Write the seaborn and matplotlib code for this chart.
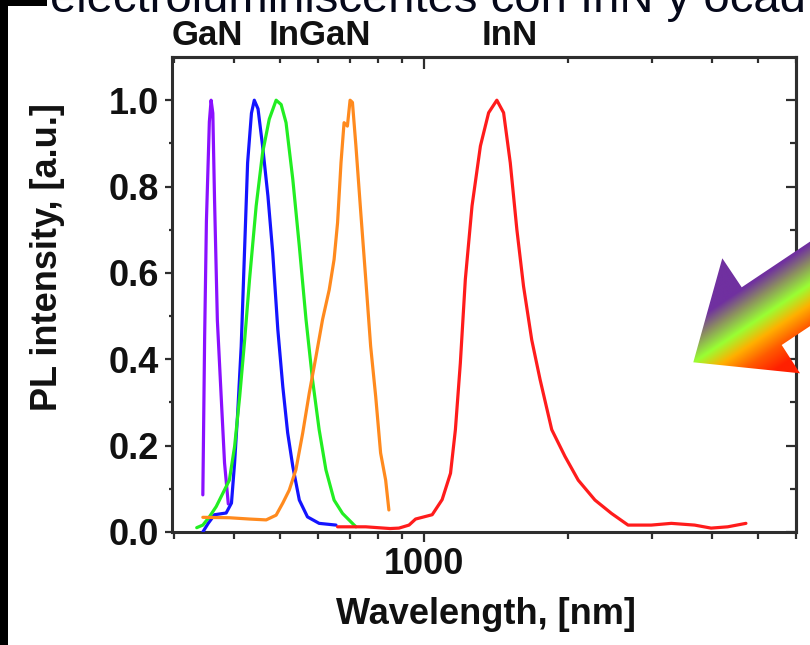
import numpy as np
import pandas as pd
import matplotlib
matplotlib.use('Agg')
import matplotlib.pyplot as plt
import seaborn as sns
from matplotlib.ticker import FixedLocator, FuncFormatter, NullFormatter
from matplotlib.patches import Polygon, Rectangle
from matplotlib.colors import LinearSegmentedColormap

# ---------------- data ----------------
gan_wl = [345, 348, 351, 356, 359, 362, 365, 370, 377, 383, 390]
gan_int = [0.086, 0.45, 0.72, 0.95, 1.0, 0.97, 0.77, 0.49, 0.31, 0.16, 0.065]

blue_wl = [345, 354, 365, 386, 396, 402, 408, 415, 422, 428, 436, 442, 450,
           460, 472, 483, 495, 507, 519, 532, 549, 571, 604, 655]
blue_int = [0.0, 0.02, 0.04, 0.044, 0.067, 0.16, 0.275, 0.43, 0.66, 0.855,
            0.97, 1.0, 0.98, 0.894, 0.778, 0.647, 0.469, 0.337, 0.23, 0.152,
            0.074, 0.035, 0.02, 0.016]

green_wl = [335, 345, 356, 368, 380, 392, 402, 412, 422, 432, 446, 460, 475,
            491, 503, 515, 532, 549, 567, 585, 604, 624, 649, 676, 709, 721]
green_int = [0.01, 0.016, 0.035, 0.059, 0.09, 0.12, 0.198, 0.314, 0.445,
             0.585, 0.755, 0.878, 0.956, 1.0, 0.99, 0.948, 0.817, 0.662,
             0.492, 0.353, 0.237, 0.144, 0.074, 0.043, 0.02, 0.012]

orange_wl = [345, 392, 432, 468, 491, 507, 523, 540, 558, 576, 595, 614, 634,
             649, 660, 671, 681, 692, 701, 709, 721, 738, 756, 774, 793, 812,
             832, 845]
orange_int = [0.034, 0.033, 0.030, 0.028, 0.039, 0.067, 0.097, 0.144, 0.229,
              0.322, 0.407, 0.492, 0.561, 0.631, 0.716, 0.855, 0.948, 0.94,
              1.0, 0.995, 0.894, 0.74, 0.585, 0.43, 0.314, 0.183, 0.12, 0.051]

red_wl = [660, 756, 850, 887, 931, 961, 1041, 1092, 1137, 1164, 1192, 1221,
          1261, 1313, 1366, 1421, 1468, 1516, 1565, 1616, 1681, 1750, 1851,
          1973, 2103, 2279, 2468, 2673, 2989, 3292, 3682, 3987, 4319, 4715]
red_int = [0.012, 0.012, 0.008, 0.009, 0.016, 0.030, 0.040, 0.075, 0.136,
           0.237, 0.391, 0.585, 0.755, 0.894, 0.971, 1.0, 0.971, 0.855, 0.70,
           0.569, 0.445, 0.353, 0.237, 0.175, 0.12, 0.074, 0.043, 0.016,
           0.016, 0.02, 0.016, 0.009, 0.012, 0.02]

peak_labels = ['GaN', 'InGaN', 'InN']
peak_label_x = [353, 606, 1511]

y_ticks = [0.0, 0.2, 0.4, 0.6, 0.8, 1.0]
y_minor = [0.1, 0.3, 0.5, 0.7, 0.9]
x_major = [1000]
x_minor = [300, 400, 500, 600, 700, 800, 900, 2000, 3000, 4000, 5000, 6000]

series = [
    ('GaN', gan_wl, gan_int, '#8a10ff'),
    ('InGaN blue', blue_wl, blue_int, '#1414ff'),
    ('InGaN green', green_wl, green_int, '#22ee22'),
    ('InGaN orange', orange_wl, orange_int, '#ff8a1e'),
    ('InN', red_wl, red_int, '#ff1c1c'),
]

# ---------------- style ----------------
sns.set_theme(style='ticks')
plt.rcParams['font.family'] = ['Liberation Sans', 'DejaVu Sans']
FS = 26
SPINE = '#2e2e2e'
TXT = '#111111'

fig = plt.figure(figsize=(8.1, 6.45), dpi=100)
fig.patch.set_facecolor('white')
ax = fig.add_axes([0.2120, 0.1752, 0.7707, 0.7364])
ax.set_facecolor('white')

order = [0, 2, 1, 3, 4]
for i in order:
    name, wl, it, col = series[i]
    df = pd.DataFrame({'wl': wl, 'I': it})
    sns.lineplot(data=df, x='wl', y='I', ax=ax, color=col, lw=2.3,
                 estimator=None, sort=False, zorder=3 + i)

ax.set_xscale('log')
ax.set_xlim(297, 6000)
ax.set_ylim(0, 1.1)

ax.xaxis.set_major_locator(FixedLocator(x_major))
ax.xaxis.set_major_formatter(FuncFormatter(lambda v, p: '%d' % v))
ax.xaxis.set_minor_locator(FixedLocator(x_minor))
ax.xaxis.set_minor_formatter(NullFormatter())
ax.yaxis.set_major_locator(FixedLocator(y_ticks))
ax.yaxis.set_major_formatter(FuncFormatter(lambda v, p: '%.1f' % v))
ax.yaxis.set_minor_locator(FixedLocator(y_minor))

for sp in ax.spines.values():
    sp.set_visible(True)
    sp.set_linewidth(2.2)
    sp.set_color(SPINE)

ax.tick_params(axis='x', which='major', direction='out', length=7, width=1.6,
               color=SPINE, pad=4.0, labelsize=FS, top=False)
ax.tick_params(axis='x', which='minor', direction='out', length=5, width=1.6,
               color=SPINE, top=False)
ax.tick_params(axis='y', which='major', direction='out', length=5, width=1.6,
               color=SPINE, pad=4.5, labelsize=FS, right=False)
ax.tick_params(axis='y', which='minor', direction='out', length=2.4, width=1.6,
               color=SPINE, right=False)
for lab in ax.get_xticklabels() + ax.get_yticklabels():
    lab.set_fontweight('bold')
    lab.set_color(TXT)

# top and right ticks pointing inward
axt = ax.secondary_xaxis('top')
axt.xaxis.set_major_locator(FixedLocator(x_major))
axt.xaxis.set_minor_locator(FixedLocator(x_minor))
axt.xaxis.set_major_formatter(NullFormatter())
axt.xaxis.set_minor_formatter(NullFormatter())
axt.tick_params(axis='x', which='major', direction='in', length=8.6, width=1.6, color=SPINE)
axt.tick_params(axis='x', which='minor', direction='in', length=4.3, width=1.6, color=SPINE)
axt.spines['top'].set_linewidth(2.2)
axt.spines['top'].set_color(SPINE)

axr = ax.secondary_yaxis('right')
axr.yaxis.set_major_locator(FixedLocator(y_ticks))
axr.yaxis.set_minor_locator(FixedLocator(y_minor))
axr.yaxis.set_major_formatter(NullFormatter())
axr.tick_params(axis='y', which='major', direction='in', length=7, width=1.6, color=SPINE)
axr.tick_params(axis='y', which='minor', direction='in', length=4.3, width=1.6, color=SPINE)
axr.spines['right'].set_linewidth(2.2)
axr.spines['right'].set_color(SPINE)

ax.set_xlabel('Wavelength, [nm]', fontsize=FS, fontweight='bold', color=TXT)
ax.xaxis.set_label_coords(0.503, -0.137)
ax.set_ylabel('PL intensity, [a.u.]', fontsize=FS, fontweight='bold', color=TXT)
ax.yaxis.set_label_coords(-0.171, 0.579)

for lab, xv in zip(peak_labels, peak_label_x):
    ax.text(xv, 1.128, lab, ha='center', va='baseline', fontsize=FS - 1,
            fontweight='bold', color=TXT, clip_on=False)

# ---------------- overlay: border, cut-off title, gradient arrow ----------------
ov = fig.add_axes([0, 0, 1, 1], zorder=10)
ov.set_xlim(0, 810)
ov.set_ylim(645, 0)
ov.axis('off')
ov.patch.set_alpha(0)

ov.add_patch(Rectangle((0, 0), 8, 645, facecolor='black', edgecolor='none'))
ov.add_patch(Rectangle((0, 0), 47, 6, facecolor='black', edgecolor='none'))
ov.text(50, 12, 'electroluminiscentes con InN y ocad', fontsize=34,
        va='baseline', ha='left', color='#05081a', clip_on=False)

arrow_pts = [(693.3, 362.3), (722.3, 258.3), (741.7, 287.3), (812, 240.3),
             (812, 324.8), (781.7, 345.0), (800.0, 373.3)]
poly = Polygon(arrow_pts, closed=True, facecolor='none', edgecolor='none')
ov.add_patch(poly)

gx = np.linspace(688, 812, 260)
gy = np.linspace(235, 378, 300)
GX, GY = np.meshgrid(gx, gy)
S = 0.555 * GX + 0.831 * GY
s0, s1 = 612.0, 758.0
Sn = (S - s0) / (s1 - s0)
stops = [(612, '#7030a0'), (652, '#7030a0'), (668, '#8c9060'), (686, '#99ff33'),
         (703, '#ffb000'), (720, '#ff5a00'), (738, '#ff2000'), (758, '#ff2000')]
cmap = LinearSegmentedColormap.from_list(
    'arrow', [((s - s0) / (s1 - s0), c) for s, c in stops])
im = ov.imshow(Sn, cmap=cmap, vmin=0, vmax=1, extent=(688, 812, 378, 235),
               origin='upper', aspect='auto', interpolation='bilinear')
im.set_clip_path(poly)
ov.set_xlim(0, 810)
ov.set_ylim(645, 0)

fig.savefig('out.png', dpi=100, facecolor='white')
